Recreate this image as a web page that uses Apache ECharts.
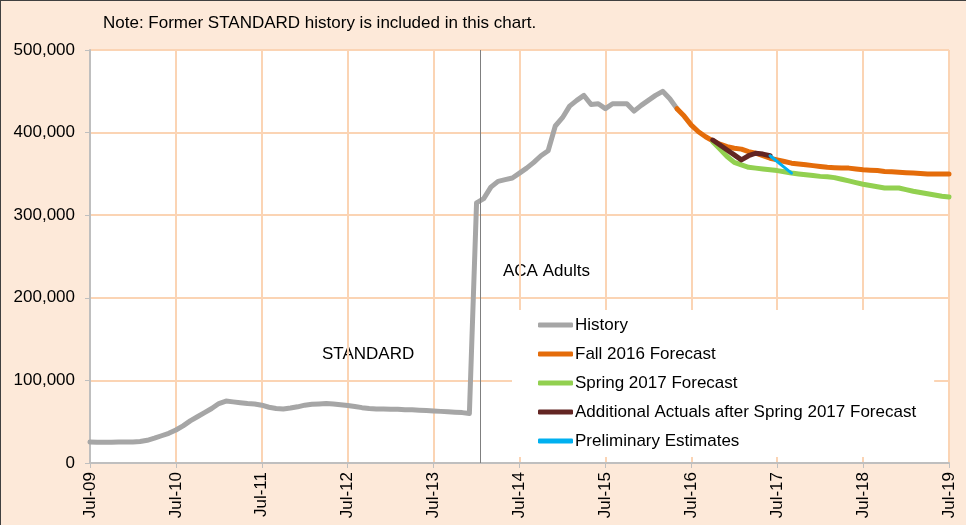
<!DOCTYPE html>
<html>
<head>
<meta charset="utf-8">
<script src="https://cdn.jsdelivr.net/npm/echarts@6/dist/echarts.min.js"></script>
<style>
  html, body { margin: 0; padding: 0; background: #FDE9D9; }
  #chart { width: 966px; height: 525px; }
  #frame { position: absolute; left: 0; top: 0; width: 966px; height: 525px;
           border-top: 1px solid #404040; border-left: 1px solid #404040;
           box-sizing: border-box; pointer-events: none; }
</style>
</head>
<body>
<div id="chart"></div>
<div id="frame"></div>
<script>
// x axis: month index, 0 = Jul-09, labels every 12 months
const tickLabels = ['Jul-09', 'Jul-10', 'Jul-11', 'Jul-12', 'Jul-13', 'Jul-14',
                    'Jul-15', 'Jul-16', 'Jul-17', 'Jul-18', 'Jul-19'];
const acaSplit = 54.5; // Jan-14, STANDARD -> ACA Adults

// History, Jul-09 .. May-16
const historyStart = 0;
const history = [
  25500, 25000, 25000, 25000, 25500, 25500, 25500, 26000, 27500, 30000, 33000, 36000,
  40000, 45000, 51000, 56000, 61000, 66000, 72000, 75000, 74000, 73000, 72000, 71500,
  70000, 67500, 66000, 65500, 66500, 68000, 70000, 71000, 71500, 72000, 71500, 70500,
  69500, 68500, 67000, 66000, 65500, 65500, 65000, 65000, 64500, 64500, 64000, 63500,
  63000, 62500, 62000, 61500, 61000, 60000, 315000, 320000, 334000, 341000, 343000, 345000,
  351000, 357000, 364000, 372000, 378000, 408000, 418000, 432000, 439000, 445000, 434000, 435000,
  429000, 435000, 435000, 435000, 426000, 433000, 439000, 445000, 450000, 441000, 429000
];

// Fall 2016 Forecast, May-16 .. Jul-19
const fallStart = 82;
const fall2016 = [
  429000, 420000, 409000, 401000, 395000, 390000, 386000, 383000, 381000, 380000,
  377000, 375000, 372000, 369000, 367000, 365000, 363000, 362000, 361000, 360000,
  359000, 358000, 357500, 357000, 357000, 356000, 355000, 354500, 354000, 353000,
  352500, 352000, 351500, 351000, 350500, 350000, 350000, 350000, 350000
];

// Spring 2017 Forecast, Oct-16 .. Jul-19
const springStart = 87;
const spring2017 = [
  389000, 380000, 371000, 364000, 361000, 358000, 357000, 356000, 355000, 354000,
  352500, 351000, 350000, 349000, 348000, 347000, 346500, 345500, 343500, 341500,
  339500, 337500, 336000, 334500, 333000, 333000, 333000, 331000, 329000, 327500,
  326000, 324500, 323000, 322000
];

// Additional Actuals after Spring 2017 Forecast, Oct-16 .. Jun-17
const actualsStart = 87;
const actuals = [391000, 385000, 379000, 373000, 367000, 372000, 375000, 374000, 372000];

// Preliminary Estimates, Jun-17 .. Sep-17
const prelimStart = 95;
const prelim = [372000, 365000, 358000, 351000];

const font = '"Liberation Sans", Arial, sans-serif';
const toPoints = (start, arr) => arr.map((v, k) => [start + k, v]);

const lineSeries = (name, start, arr, color, width) => ({
  name: name,
  type: 'line',
  data: toPoints(start, arr),
  symbol: 'none',
  color: color,
  lineStyle: { color: color, width: width, cap: 'round', join: 'round' },
  emphasis: { disabled: true },
  z: 3
});

const chart = echarts.init(document.getElementById('chart'));

const series = [
  lineSeries('History', historyStart, history, '#A6A6A6', 5),
  lineSeries('Fall 2016 Forecast', fallStart, fall2016, '#E46C0A', 5),
  lineSeries('Spring 2017 Forecast', springStart, spring2017, '#92D050', 5),
  lineSeries('Additional Actuals after Spring 2017 Forecast', actualsStart, actuals, '#632523', 5),
  lineSeries('Preliminary Estimates', prelimStart, prelim, '#00B0F0', 3)
];
// ACA split line
series[0].markLine = {
  silent: true,
  symbol: 'none',
  label: { show: false },
  lineStyle: { color: '#7F7F7F', width: 1, type: 'solid' },
  data: [{ xAxis: acaSplit }]
};

chart.setOption({
  animation: false,
  backgroundColor: '#FDE9D9',
  textStyle: { fontFamily: font },
  grid: {
    left: 90, right: 17, top: 50, bottom: 62,
    show: true, backgroundColor: '#ffffff', borderWidth: 0
  },
  xAxis: {
    type: 'value',
    min: 0, max: 120, interval: 12,
    axisLine: { show: true, lineStyle: { color: '#BFBFBF', width: 2 } },
    axisTick: { show: true, length: 5, lineStyle: { color: '#BFBFBF', width: 1 } },
    axisLabel: {
      rotate: 90, margin: 9, color: '#000', fontSize: 17, fontFamily: font,
      formatter: v => tickLabels[Math.round(v / 12)]
    },
    splitLine: { show: true, lineStyle: { color: '#FBD4B4', width: 2 } }
  },
  yAxis: {
    type: 'value',
    min: 0, max: 500000, interval: 100000,
    axisLine: { show: true, lineStyle: { color: '#BFBFBF', width: 2 } },
    axisTick: { show: true, length: 5, lineStyle: { color: '#BFBFBF', width: 1 } },
    axisLabel: {
      margin: 15, color: '#000', fontSize: 17, fontFamily: font,
      formatter: v => v.toLocaleString('en-US')
    },
    splitLine: { show: true, lineStyle: { color: '#FBD4B4', width: 2 } }
  },
  legend: {
    orient: 'vertical',
    left: 512, top: 310,
    padding: [5, 18, 6, 26],
    backgroundColor: '#ffffff',
    icon: 'roundRect',
    itemWidth: 35, itemHeight: 5, itemGap: 9,
    selectedMode: false,
    textStyle: { color: '#000', fontSize: 17, lineHeight: 20, fontFamily: font, padding: [0, 0, 0, -3] },
    data: series.map(s => s.name)
  },
  graphic: [
    { type: 'text', left: 103, top: 15, style: { text: 'Note: Former STANDARD history is included in this chart.', fill: '#000', font: '17px ' + font } },
    { type: 'text', left: 322, top: 346, style: { text: 'STANDARD', fill: '#000', font: '17px ' + font } },
    { type: 'text', left: 503, top: 263, style: { text: 'ACA Adults', fill: '#000', font: '17px ' + font } }
  ],
  series: series
});

window.addEventListener('resize', () => chart.resize());
</script>
</body>
</html>
